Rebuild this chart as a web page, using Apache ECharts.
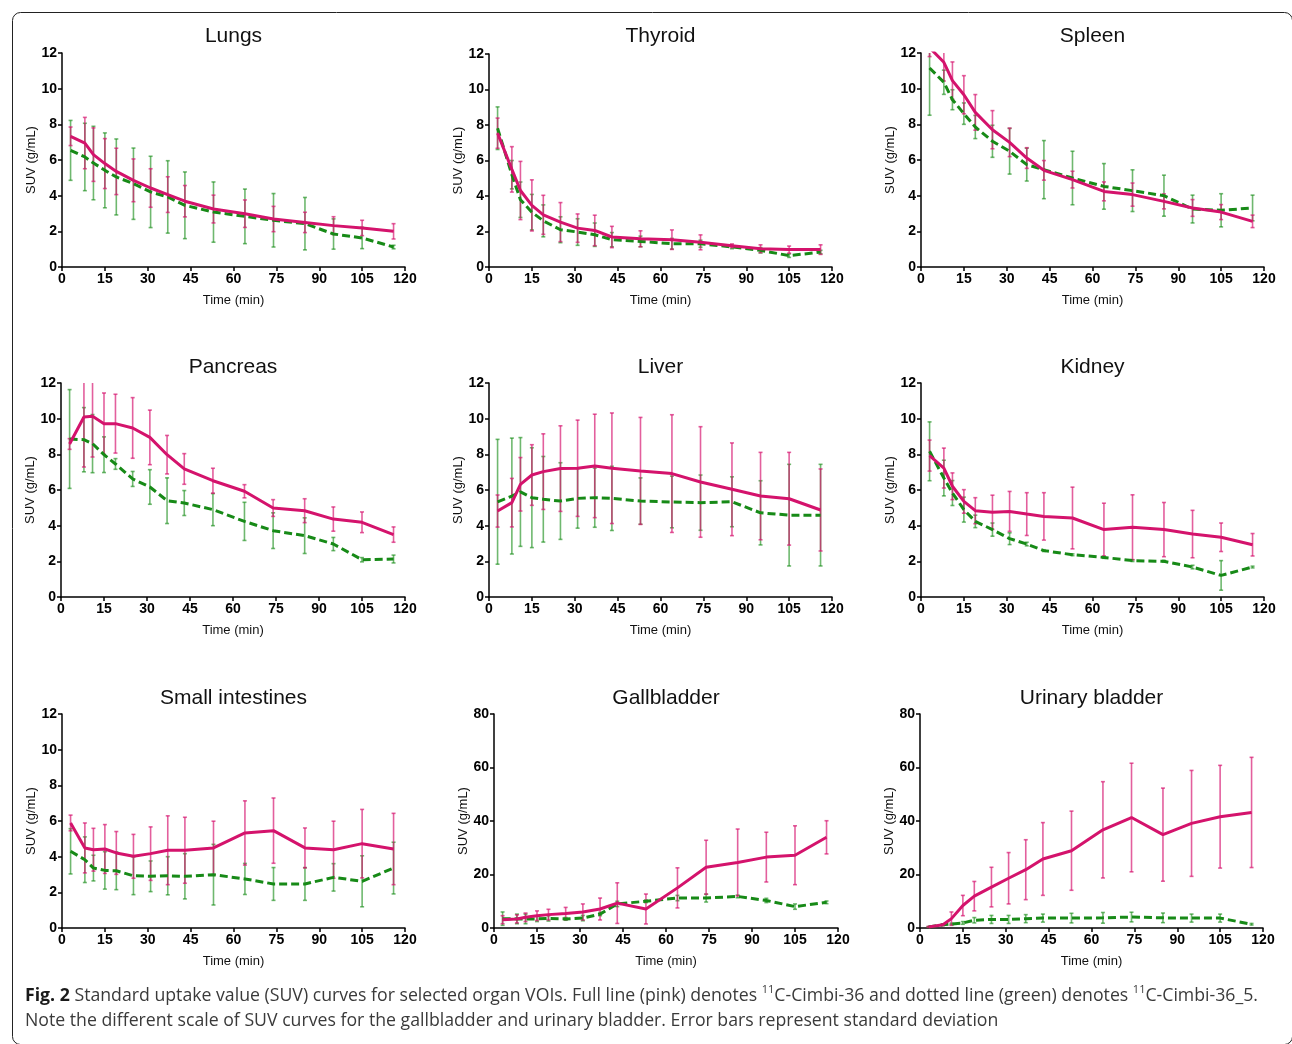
<!DOCTYPE html>
<html>
<head>
<meta charset="utf-8">
<script src="https://cdn.jsdelivr.net/npm/echarts@6/dist/echarts.min.js"></script>
<style>
html,body{margin:0;padding:0;background:#fff;}
#chart{width:1292px;height:1044px;}
</style>
</head>
<body>
<div id="chart"></div>
<script>
// ---- data ----
const times = [3, 8, 11, 15, 19, 25, 31, 37, 43, 53, 64, 74, 85, 95, 105, 116];
const xTicks = [0, 15, 30, 45, 60, 75, 90, 105, 120];

const lungsPink    = [7.33, 6.95, 6.3, 5.8, 5.36, 4.86, 4.43, 4.06, 3.69, 3.25, 2.99, 2.69, 2.5, 2.32, 2.19, 2.0];
const lungsPinkSD  = [0.52, 1.44, 1.5, 1.4, 1.3, 1.2, 1.08, 1.0, 0.88, 0.78, 0.77, 0.71, 0.57, 0.5, 0.43, 0.43];
const lungsGreen   = [6.54, 6.17, 5.83, 5.42, 5.05, 4.67, 4.21, 3.93, 3.46, 3.08, 2.84, 2.62, 2.43, 1.85, 1.63, 1.12];
const lungsGreenSD = [1.68, 1.89, 2.06, 2.1, 2.13, 2.0, 2.0, 2.03, 1.87, 1.69, 1.53, 1.5, 1.47, 0.85, 0.6, 0.1];

const thyPink    = [7.54, 5.5, 4.31, 3.47, 2.94, 2.53, 2.19, 2.06, 1.69, 1.59, 1.54, 1.39, 1.2, 1.03, 0.98, 0.98];
const thyPinkSD  = [0.85, 1.28, 1.64, 1.44, 1.1, 1.1, 0.8, 0.86, 0.6, 0.45, 0.55, 0.42, 0.1, 0.22, 0.2, 0.27];
const thyGreen   = [7.82, 5.2, 3.79, 3.09, 2.6, 2.1, 1.97, 1.82, 1.54, 1.44, 1.31, 1.31, 1.13, 0.94, 0.64, 0.84];
const thyGreenSD = [1.2, 0.8, 1.0, 1.0, 0.9, 0.73, 0.75, 0.66, 0.4, 0.3, 0.3, 0.2, 0.1, 0.15, 0.1, 0.1];

const splPink    = [12.3, 11.48, 10.45, 9.66, 8.67, 7.7, 6.99, 6.11, 5.42, 4.9, 4.24, 4.06, 3.68, 3.31, 3.08, 2.56];
const splPinkSD  = [0.5, 1.05, 1.05, 1.07, 1.0, 1.07, 0.8, 0.58, 0.55, 0.47, 0.53, 0.65, 0.42, 0.47, 0.42, 0.35];
const splGreen   = [11.16, 10.36, 9.38, 8.6, 7.85, 7.05, 6.49, 5.74, 5.46, 4.99, 4.52, 4.28, 4.0, 3.25, 3.18, 3.31];
const splGreenSD = [2.65, 0.68, 0.56, 0.6, 0.65, 0.9, 1.28, 0.92, 1.63, 1.5, 1.28, 1.17, 1.15, 0.78, 0.93, 0.72];

const panPink    = [8.58, 10.09, 10.13, 9.72, 9.72, 9.48, 8.95, 7.98, 7.18, 6.52, 5.93, 4.99, 4.84, 4.37, 4.19, 3.5];
const panPinkSD  = [0.3, 2.8, 2.28, 1.72, 1.65, 1.7, 1.53, 1.08, 0.86, 0.7, 0.37, 0.47, 0.67, 0.68, 0.58, 0.43];
const panGreen   = [8.86, 8.82, 8.6, 7.98, 7.46, 6.62, 6.17, 5.4, 5.27, 4.9, 4.24, 3.72, 3.44, 2.97, 2.09, 2.13];
const panGreenSD = [2.77, 1.8, 1.63, 1.0, 0.3, 0.42, 0.97, 1.28, 0.7, 0.9, 1.07, 1.0, 1.0, 0.37, 0.12, 0.22];

const livPink    = [4.82, 5.29, 6.32, 6.84, 7.03, 7.2, 7.22, 7.35, 7.22, 7.07, 6.92, 6.45, 6.04, 5.66, 5.51, 4.88];
const livPinkSD  = [0.9, 1.36, 1.5, 1.7, 2.12, 2.4, 2.7, 2.9, 3.1, 3.0, 3.3, 3.1, 2.6, 2.45, 2.6, 2.3];
const livGreen   = [5.34, 5.66, 5.89, 5.57, 5.48, 5.38, 5.53, 5.57, 5.53, 5.38, 5.33, 5.29, 5.34, 4.72, 4.59, 4.59];
const livGreenSD = [3.5, 3.25, 3.05, 2.8, 2.4, 2.15, 1.67, 1.66, 1.8, 1.3, 1.45, 1.55, 1.4, 1.8, 2.85, 2.85];

const kidPink    = [7.93, 7.23, 6.21, 5.36, 4.84, 4.75, 4.8, 4.65, 4.52, 4.43, 3.78, 3.91, 3.78, 3.53, 3.35, 2.93];
const kidPinkSD  = [0.87, 1.12, 0.75, 0.66, 0.73, 0.96, 1.12, 1.2, 1.33, 1.73, 1.48, 1.82, 1.52, 1.33, 0.8, 0.63];
const kidGreen   = [8.17, 6.67, 5.83, 4.9, 4.24, 3.78, 3.27, 2.97, 2.6, 2.37, 2.22, 2.04, 2.0, 1.68, 1.21, 1.68];
const kidGreenSD = [1.65, 1.0, 0.7, 0.7, 0.35, 0.37, 0.33, 0.1, 0.05, 0.05, 0.05, 0.05, 0.05, 0.1, 0.83, 0.05];

const sinPink    = [5.89, 4.49, 4.39, 4.43, 4.21, 4.02, 4.17, 4.36, 4.36, 4.49, 5.33, 5.46, 4.49, 4.39, 4.73, 4.43];
const sinPinkSD  = [0.44, 1.4, 1.2, 1.37, 1.2, 1.23, 1.5, 1.93, 1.85, 1.5, 1.8, 1.83, 1.12, 1.6, 1.92, 2.0];
const sinGreen   = [4.3, 3.83, 3.36, 3.23, 3.21, 2.93, 2.9, 2.93, 2.9, 2.99, 2.75, 2.47, 2.47, 2.84, 2.62, 3.36];
const sinGreenSD = [1.27, 1.28, 0.72, 1.05, 1.06, 1.06, 0.86, 1.07, 1.27, 1.7, 0.87, 0.92, 0.92, 0.77, 1.43, 1.45];

const galPink    = [3.1, 3.4, 4.0, 4.6, 5.0, 5.4, 6.0, 7.1, 9.3, 7.1, 15.0, 22.7, 24.5, 26.5, 27.2, 33.9];
const galPinkSD  = [1.5, 1.5, 1.6, 1.8, 2.0, 2.3, 3.0, 4.1, 7.6, 5.6, 7.5, 10.1, 12.5, 9.3, 11.0, 6.2];
const galGreen   = [3.5, 3.4, 3.4, 3.4, 3.6, 3.4, 3.7, 5.2, 9.0, 10.0, 11.2, 11.2, 11.8, 10.3, 8.0, 9.6];
const galGreenSD = [2.5, 1.8, 1.8, 1.0, 1.0, 0.5, 1.0, 0.6, 1.0, 0.5, 1.0, 1.5, 0.5, 0.8, 1.0, 0.5];

const uriPink    = [0.4, 1.2, 3.5, 8.4, 11.9, 15.3, 18.6, 21.8, 25.8, 28.9, 36.7, 41.3, 34.9, 39.1, 41.6, 43.2];
const uriPinkSD  = [0.2, 0.3, 2.5, 3.8, 5.5, 7.4, 9.6, 11.2, 13.6, 14.8, 18.0, 20.3, 17.4, 19.8, 19.2, 20.6];
const uriGreen   = [0.4, 1.2, 1.5, 1.9, 2.9, 3.2, 3.2, 3.5, 3.7, 3.7, 3.8, 4.1, 3.8, 3.7, 3.7, 1.4];
const uriGreenSD = [0.1, 0.2, 0.3, 0.5, 1.0, 1.5, 1.5, 1.5, 1.5, 1.8, 2.0, 1.8, 1.8, 1.5, 1.5, 0.3];

const organNames = ['Lungs', 'Thyroid', 'Spleen', 'Pancreas', 'Liver', 'Kidney', 'Small intestines', 'Gallbladder', 'Urinary bladder'];
const yMaxes = [12, 12, 12, 12, 12, 12, 12, 80, 80];
const yIntervals = [2, 2, 2, 2, 2, 2, 2, 20, 20];

const pinkMeans = [lungsPink, thyPink, splPink, panPink, livPink, kidPink, sinPink, galPink, uriPink];
const pinkSDs = [lungsPinkSD, thyPinkSD, splPinkSD, panPinkSD, livPinkSD, kidPinkSD, sinPinkSD, galPinkSD, uriPinkSD];
const greenMeans = [lungsGreen, thyGreen, splGreen, panGreen, livGreen, kidGreen, sinGreen, galGreen, uriGreen];
const greenSDs = [lungsGreenSD, thyGreenSD, splGreenSD, panGreenSD, livGreenSD, kidGreenSD, sinGreenSD, galGreenSD, uriGreenSD];

// ---- layout ----
const gridBoxes = [
  [62, 53, 343, 214], [489, 54, 343, 213], [921, 53, 343, 214],
  [61, 383, 344, 214], [489, 383, 343, 214], [921, 383, 343, 214],
  [62, 714, 343, 214], [494, 714, 344, 214], [920, 714, 343, 214]
];
const titleY = [35, 35, 35, 366, 366, 366, 697, 697, 697];

const PINK = '#d4136c';
const GREEN = '#178a17';
const PINK_BAR = 'rgba(214,19,110,0.68)';
const GREEN_BAR = 'rgba(23,140,23,0.62)';
const FONT = 'Liberation Sans';

const chart = echarts.init(document.getElementById('chart'), null, {renderer: 'canvas'});

function errRender(color) {
  return function (params, api) {
    const x = api.value(0), m = api.value(1), s = api.value(2);
    const top = api.coord([x, m + s]);
    const bot = api.coord([x, m - s]);
    const st = {stroke: color, lineWidth: 1.6};
    const c = 2;
    return {
      type: 'group',
      children: [
        {type: 'line', shape: {x1: top[0], y1: top[1], x2: bot[0], y2: bot[1]}, style: st},
        {type: 'line', shape: {x1: top[0] - c, y1: top[1], x2: top[0] + c, y2: top[1]}, style: st},
        {type: 'line', shape: {x1: bot[0] - c, y1: bot[1], x2: bot[0] + c, y2: bot[1]}, style: st}
      ]
    };
  };
}

const grid = [], xAxis = [], yAxis = [], title = [], series = [];
organNames.forEach((name, i) => {
  const [l, t, w, h] = gridBoxes[i];
  grid.push({left: l, top: t, width: w, height: h, containLabel: false});
  title.push({
    text: name, left: l + w / 2, top: titleY[i] - 9, textAlign: 'center', padding: 0,
    textStyle: {fontFamily: FONT, fontSize: 21, fontWeight: 'normal', color: '#111'}
  });
  xAxis.push({
    type: 'value', gridIndex: i, min: xTicks[0], max: xTicks[xTicks.length - 1], interval: 15,
    name: 'Time (min)', nameLocation: 'middle', nameGap: 27,
    nameTextStyle: {fontFamily: FONT, fontSize: 13, color: '#111'},
    axisLine: {onZero: false, lineStyle: {color: '#000', width: 1.5}},
    axisTick: {show: true, inside: false, length: 4, lineStyle: {color: '#000', width: 1.5}},
    axisLabel: {margin: 5, fontFamily: FONT, fontSize: 14, fontWeight: 'bold', color: '#000'},
    splitLine: {show: false}
  });
  yAxis.push({
    type: 'value', gridIndex: i, min: 0, max: yMaxes[i], interval: yIntervals[i],
    name: 'SUV (g/mL)', nameLocation: 'middle', nameGap: 15,
    nameTextStyle: {fontFamily: FONT, fontSize: 13, color: '#111'},
    axisLine: {show: true, onZero: false, lineStyle: {color: '#000', width: 1.5}},
    axisTick: {show: true, inside: false, length: 4, lineStyle: {color: '#000', width: 1.5}},
    axisLabel: {margin: 5, fontFamily: FONT, fontSize: 14, fontWeight: 'bold', color: '#000'},
    splitLine: {show: false}
  });
  const pinkErr = times.map((tm, k) => [tm, pinkMeans[i][k], pinkSDs[i][k]]);
  const greenErr = times.map((tm, k) => [tm, greenMeans[i][k], greenSDs[i][k]]);
  series.push({
    type: 'custom', xAxisIndex: i, yAxisIndex: i, clip: true, z: 2, silent: true,
    renderItem: errRender(GREEN_BAR), data: greenErr, encode: {x: 0, y: 1}
  });
  series.push({
    type: 'custom', xAxisIndex: i, yAxisIndex: i, clip: true, z: 2, silent: true,
    renderItem: errRender(PINK_BAR), data: pinkErr, encode: {x: 0, y: 1}
  });
  series.push({
    type: 'line', xAxisIndex: i, yAxisIndex: i, showSymbol: false, clip: true, z: 3, silent: true,
    data: times.map((tm, k) => [tm, greenMeans[i][k]]),
    lineStyle: {color: GREEN, width: 3, type: [8, 4]}
  });
  series.push({
    type: 'line', xAxisIndex: i, yAxisIndex: i, showSymbol: false, clip: true, z: 4, silent: true,
    data: times.map((tm, k) => [tm, pinkMeans[i][k]]),
    lineStyle: {color: PINK, width: 3}
  });
});

const CAP = 'Open Sans';
chart.setOption({
  animation: false,
  backgroundColor: '#fff',
  grid, xAxis, yAxis, title, series,
  graphic: [
    {
      type: 'rect', left: 10, top: 10, z: 0, silent: true,
      shape: {width: 1280, height: 1032, r: 8},
      style: {fill: 'none', stroke: '#222', lineWidth: 1}
    },
    {
      type: 'text', left: 25, top: 983, z: 10, silent: true,
      style: {
        text: '{b|Fig. 2} Standard uptake value (SUV) curves for selected organ VOIs. Full line (pink) denotes {s|11}C-Cimbi-36 and dotted line (green) denotes {s|11}C-Cimbi-36_5.\nNote the different scale of SUV curves for the gallbladder and urinary bladder. Error bars represent standard deviation',
        font: '17.7px ' + CAP,
        fill: '#3a3a3a',
        lineHeight: 25,
        rich: {
          b: {fontFamily: CAP, fontSize: 17.7, fontWeight: 'bold', fill: '#1a1a1a', lineHeight: 25},
          s: {fontFamily: CAP, fontSize: 11, fill: '#3a3a3a', lineHeight: 25, verticalAlign: 'top', padding: [1, 0, 0, 0]}
        }
      }
    }
  ]
});
</script>
</body>
</html>
